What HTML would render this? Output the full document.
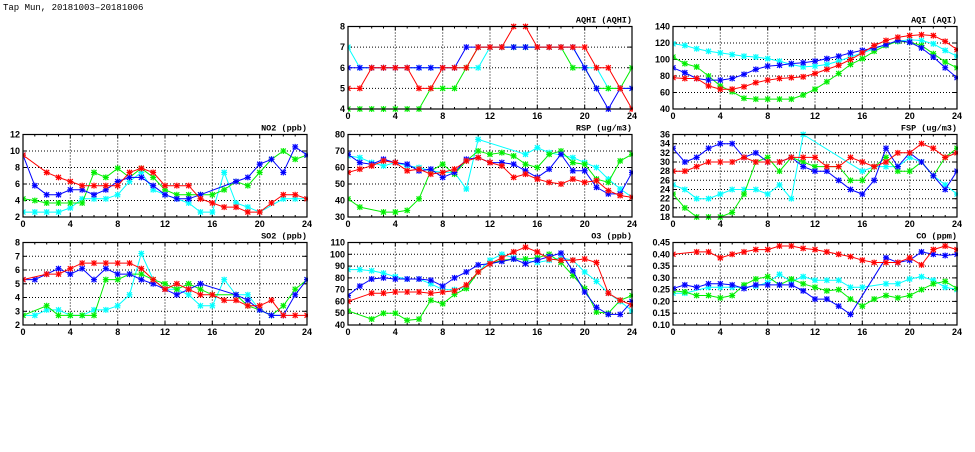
<!DOCTYPE html>
<html><head><meta charset="utf-8">
<style>
html,body{margin:0;padding:0;background:#fff;}
svg text{font-family:"Liberation Sans",sans-serif;}
</style></head>
<body>
<svg id="c" width="975" height="447" xmlns="http://www.w3.org/2000/svg"></svg>
<script>
const N=null;
const panels=[
 {t:"AQHI (AQHI)",x0:348,x1:632,y0:26.5,y1:109,min:4,max:8,step:1,dec:0,s:[
  [7,6,6,6,6,6,6,6,6,6,6,6,7,7,7,7,7,7,7,7,6,6,5,5,5],
  [4,4,4,4,4,4,4,5,5,5,6,7,7,7,7,7,7,7,7,6,6,5,5,5,6],
  [6,6,6,6,6,6,6,6,6,6,7,7,7,7,7,7,7,7,7,7,6,5,4,5,5],
  [5,5,6,6,6,6,5,5,6,6,6,7,7,7,8,8,7,7,7,7,7,6,6,5,4]]},
 {t:"AQI (AQI)",x0:673,x1:957,y0:26.5,y1:109,min:40,max:140,step:20,dec:0,s:[
  [119,117,113,110,108,106,104,103,101,98,94,91,92,94,98,103,108,113,118,122,124,123,119,111,104],
  [103,95,91,80,68,61,53,52,52,52,52,57,64,73,83,94,101,110,117,122,121,117,107,97,90],
  [90,84,77,75,75,77,82,88,92,93,95,96,98,101,104,108,111,114,118,123,121,114,103,90,78],
  [78,77,77,68,64,64,67,72,75,77,78,79,83,88,93,100,108,117,123,127,129,130,129,122,112]]},
 {t:"NO2 (ppb)",x0:23,x1:307,y0:134.5,y1:217,min:2,max:12,step:2,dec:0,s:[
  [2.6,2.6,2.6,2.6,3.1,4.2,4.2,4.2,4.7,6.3,7.4,5.3,4.7,4.2,3.7,2.6,2.6,7.4,3.7,3.2,2.6,N,4.2,4.2,4.2],
  [4.2,4.0,3.7,3.7,3.7,3.7,7.4,6.8,7.9,6.8,7.9,6.8,5.3,4.7,4.7,4.7,4.7,5.3,6.3,5.8,7.4,9.0,10.0,9.0,9.5],
  [9.5,5.8,4.7,4.7,5.3,5.3,4.7,5.3,6.3,6.8,6.8,5.8,4.7,4.2,4.2,4.7,N,N,6.3,6.8,8.4,9.0,7.4,10.5,9.5],
  [9.5,N,7.4,6.8,6.3,5.8,5.8,5.8,5.8,7.4,7.9,7.4,5.8,5.8,5.8,4.2,3.7,3.2,3.2,2.6,2.6,3.7,4.7,4.7,4.2]]},
 {t:"RSP (ug/m3)",x0:348,x1:632,y0:134.5,y1:217,min:30,max:80,step:10,dec:0,s:[
  [67,66,63,61,63,61,60,58,57,57,47,77,N,N,N,68,72,69,N,66,63,60,53,47,42],
  [41,36,N,33,33,34,41,58,62,56,64,70,68,69,67,62,60,68,70,63,62,53,51,64,68],
  [68,63,62,65,63,62,58,59,54,57,65,66,63,63,62,58,54,59,68,58,58,48,44,44,57],
  [57,59,61,64,63,58,59,56,57,59,64,66,63,61,54,56,53,51,50,53,51,52,46,43,42]]},
 {t:"FSP (ug/m3)",x0:673,x1:957,y0:134.5,y1:217,min:18,max:36,step:2,dec:0,s:[
  [25,24,22,22,23,24,24,24,23,25,22,36,N,N,N,N,28,29,29,29,31,30,27,25,23],
  [23,20,18,18,18,19,23,30,31,28,31,30,29,29,29,26,26,29,31,28,28,30,27,31,33],
  [33,30,31,33,34,34,31,32,30,30,31,29,28,28,26,24,23,26,33,29,32,30,27,24,28],
  [28,28,29,30,30,30,31,30,30,30,31,31,31,29,29,31,30,29,30,32,32,34,33,31,32]]},
 {t:"SO2 (ppb)",x0:23,x1:307,y0:242.5,y1:325,min:2,max:8,step:1,dec:0,s:[
  [2.7,2.7,3.1,3.1,2.7,2.7,3.1,3.1,3.4,4.2,7.2,5.3,4.6,4.6,4.2,3.4,3.4,5.3,4.2,4.2,3.1,2.7,2.7,N,N],
  [2.7,N,3.4,2.7,2.7,2.7,2.7,5.3,5.3,5.7,5.7,5.3,5.0,4.6,5.0,4.6,4.2,N,4.2,3.4,3.1,2.7,3.4,4.6,5.3],
  [5.3,5.3,5.7,6.1,5.7,6.1,5.3,6.1,5.7,5.7,5.3,5.0,4.6,4.2,4.6,5.0,N,N,4.2,3.8,3.1,2.7,2.7,4.2,5.3],
  [5.3,N,5.7,5.7,6.1,6.5,6.5,6.5,6.5,6.5,6.1,5.3,4.6,5.0,4.6,4.2,4.2,3.8,3.8,3.4,3.4,3.8,2.7,2.7,2.7]]},
 {t:"O3 (ppb)",x0:348,x1:632,y0:242.5,y1:325,min:40,max:110,step:10,dec:0,s:[
  [87,87,86,84,81,79,79,75,70,70,72,85,95,100,97,95,93,95,97,95,85,77,67,60,52],
  [52,N,45,50,50,44,45,61,58,66,71,85,92,95,96,96,97,100,93,82,71,51,50,61,65],
  [65,73,79,80,79,79,79,78,73,80,85,91,92,94,96,92,95,98,101,86,68,55,49,49,60],
  [60,N,67,67,68,68,68,67,68,69,74,85,92,97,102,106,102,96,95,95,96,93,67,61,57]]},
 {t:"CO (ppm)",x0:673,x1:957,y0:242.5,y1:325,min:0.10,max:0.45,step:0.05,dec:2,s:[
  [.235,.235,N,.26,.26,.26,.26,.265,.28,.315,.285,.305,.29,.29,.29,.26,.26,N,.275,.275,.295,.305,.29,.26,.25],
  [.245,.24,.225,.225,.215,.225,.27,.295,.305,.27,.295,.275,.26,.245,.25,.21,.18,.21,.225,.215,.225,.25,.275,.285,.255],
  [.255,.27,.26,.275,.275,.27,.255,.27,.27,.27,.27,.245,.21,.21,.18,.145,N,N,.385,.365,.375,.41,.40,.395,.40],
  [.40,N,.41,.41,.385,.40,.41,.42,.42,.435,.435,.425,.42,.41,.40,.39,.375,.365,.365,.365,.385,.355,.42,.435,.42]]}
];
const cols=["#00ffff","#00ee00","#0000ff","#ff0000"];
const halo=["#aaffff","#aaffaa","#aaaaff","#ffaaaa"];
let h='<text x="3" y="10" font-size="9" style="font-family:\'Liberation Mono\',monospace" fill="#000">Tap Mun, 20181003\u201320181006</text>';
for(const p of panels){
 const X=v=>p.x0+(p.x1-p.x0)*v/24;
 const Y=v=>p.y1-(p.y1-p.y0)*(v-p.min)/(p.max-p.min);
 const n=Math.round((p.max-p.min)/p.step);
 for(let i=1;i<n;i++){const y=Y(p.min+i*p.step).toFixed(1);
  h+=`<line x1="${p.x0}" x2="${p.x1}" y1="${y}" y2="${y}" stroke="#000" stroke-width="1" stroke-dasharray="1,2"/>`;}
 for(let i=4;i<24;i+=4){const x=X(i).toFixed(1);
  h+=`<line x1="${x}" x2="${x}" y1="${p.y0}" y2="${p.y1}" stroke="#000" stroke-width="1" stroke-dasharray="1,2"/>`;}
 for(let i=0;i<=24;i++){const x=X(i).toFixed(1);const L=(i%4==0)?4:2;
  h+=`<line x1="${x}" x2="${x}" y1="${p.y1}" y2="${p.y1-L}" stroke="#000"/><line x1="${x}" x2="${x}" y1="${p.y0}" y2="${p.y0+L}" stroke="#000"/>`;
  if(i%4==0)h+=`<text x="${x}" y="${p.y1+10}" font-size="9" font-weight="bold" text-anchor="middle">${i}</text>`;}
 for(let i=0;i<=n;i++){const v=p.min+i*p.step;const y=Y(v).toFixed(1);
  h+=`<line x1="${p.x0}" x2="${p.x0+4}" y1="${y}" y2="${y}" stroke="#000"/><line x1="${p.x1}" x2="${p.x1-4}" y1="${y}" y2="${y}" stroke="#000"/>`;
  h+=`<text x="${p.x0-3}" y="${(+y+3).toFixed(1)}" font-size="9" font-weight="bold" text-anchor="end">${v.toFixed(p.dec)}</text>`;}
 h+=`<text x="${p.x1}" y="${p.y0-4}" font-size="8.5" font-weight="bold" style="font-family:'Liberation Mono',monospace" text-anchor="end">${p.t}</text>`;
 h+=`<svg x="${p.x0}" y="${p.y0-3}" width="${p.x1-p.x0+1}" height="${p.y1-p.y0+6}" overflow="hidden"><g transform="translate(${-p.x0},${-(p.y0-3)})">`;
 p.s.forEach((s,k)=>{
  const pts=[];s.forEach((v,i)=>{if(v!==null)pts.push([X(i),Y(v)]);});
  h+=`<polyline fill="none" stroke="${cols[k]}" stroke-width="1" points="${pts.map(a=>a[0].toFixed(1)+','+a[1].toFixed(1)).join(' ')}"/>`;
  for(const [x,y] of pts){
   h+=`<rect x="${(x-2.5).toFixed(1)}" y="${(y-2.5).toFixed(1)}" width="5" height="5" fill="${halo[k]}" opacity="0.6"/>`;
   h+=`<path d="M${x-2.5},${y-2.5}L${x+2.5},${y+2.5}M${x-2.5},${y+2.5}L${x+2.5},${y-2.5}M${x-3},${y}L${x+3},${y}M${x},${y-3}L${x},${y+3}" stroke="${cols[k]}" stroke-width="1.1"/>`;
  }
 });
 h+=`</g></svg>`;
 h+=`<rect x="${p.x0}" y="${p.y0}" width="${p.x1-p.x0}" height="${p.y1-p.y0}" fill="none" stroke="#000" stroke-width="1.2"/>`;
}
document.getElementById('c').innerHTML=h;
</script>
</body></html>
